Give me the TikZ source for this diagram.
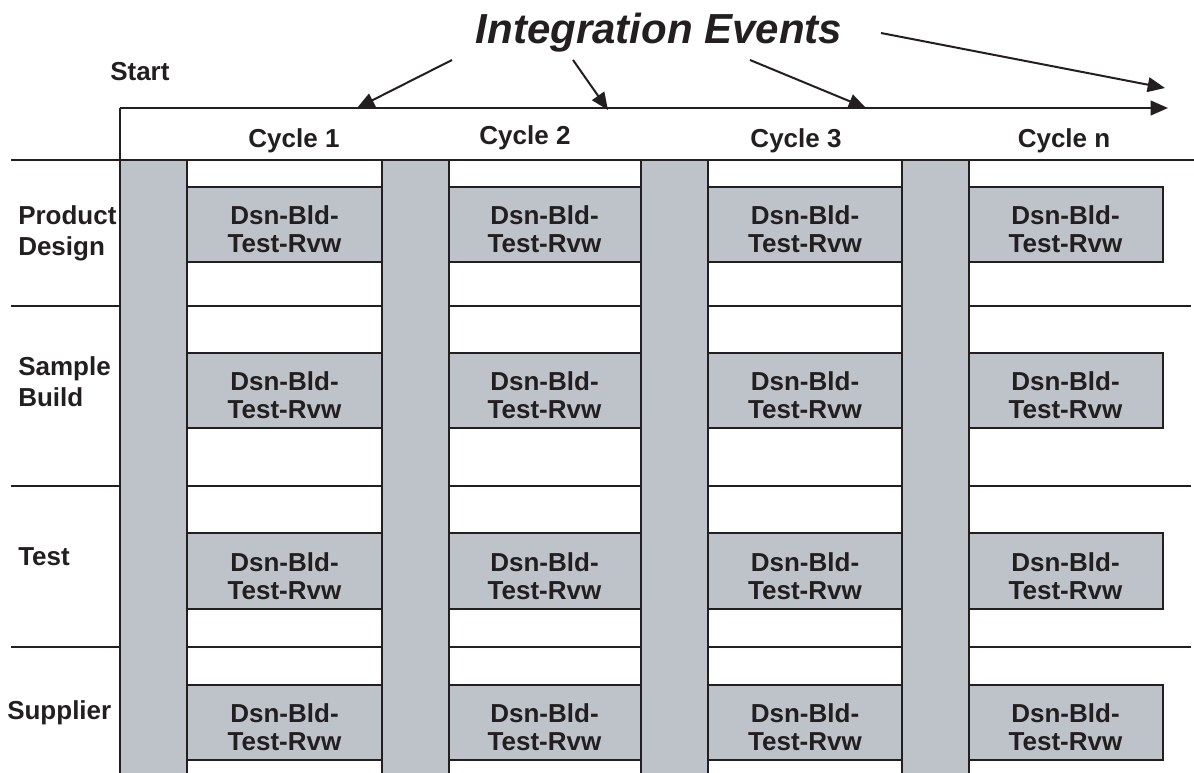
\documentclass[tikz,border=0pt]{standalone}
\usepackage{fontspec}
\setmainfont{Liberation Sans}
\usetikzlibrary{arrows.meta}
\definecolor{grigio}{RGB}{190,195,202}
\definecolor{nero}{RGB}{35,31,32}

\begin{document}
\begin{tikzpicture}[x=0.75pt,y=-0.75pt,
        linea/.style={line width=1.5pt,draw=nero},
        freccia/.style={linea,-{Triangle[length=13pt,width=11pt]}},
        blocco/.style={linea,fill=grigio},
        testo/.style={font=\fontsize{19.5}{21}\selectfont\bfseries,text=nero,align=center,anchor=base,inner sep=0pt},
        etichetta/.style={font=\fontsize{19.5}{23}\selectfont\bfseries,text=nero,align=left,anchor=base west,inner sep=0pt}]
        %area del disegno
        \clip (0,0) rectangle (1194,772);

        %scrivo titolo e start
        \node[testo,font=\fontsize{31.5}{36}\selectfont\bfseries\itshape] (eventi) at (659,43) {Integration Events};
        \node[etichetta] (start) at (110,80) {Start};

        %disegno asse dei cicli
        \coordinate (t0) at (120,108);
        \coordinate (tn) at (1168,108);
        \draw[freccia] (t0)--(tn);
        \draw[linea] (t0)--(120,160);

        %frecce degli eventi di integrazione
        \coordinate (s1) at (452,60);
        \coordinate (s2) at (573,60);
        \coordinate (s3) at (750,60);
        \coordinate (s4) at (881,33);
        \coordinate (e1) at (357,108);
        \coordinate (e2) at (608,110);
        \coordinate (e3) at (866,108);
        \coordinate (e4) at (1165,88);
        \draw[freccia] (s1)--(e1);
        \draw[freccia] (s2)--(e2);
        \draw[freccia] (s3)--(e3);
        \draw[freccia] (s4)--(e4);

        %label dei cicli
        \node[testo] (ciclo1) at (294,147) {Cycle 1};
        \node[testo] (ciclo2) at (525,144) {Cycle 2};
        \node[testo] (ciclo3) at (796,147) {Cycle 3};
        \node[testo] (ciclon) at (1064,147) {Cycle n};

        %linee orizzontali tra le righe
        \draw[linea] (11,160)--(1194,160);
        \draw[linea] (11,306)--(1191,306);
        \draw[linea] (11,486)--(1191,486);
        \draw[linea] (11,647)--(1191,647);

        %blocchi Dsn-Bld-Test-Rvw
        \foreach \r/\ya/\yb in {1/187/262,2/353/428,3/533/609,4/685/760}
          \foreach \c/\xa/\xb in {1/187/382,2/448/641,3/708/902,4/968/1163}
            \draw[blocco] (\xa,\ya) rectangle (\xb,\yb) node[pos=.5,testo,yshift=-21pt] (b\r\c) {Dsn-Bld-\\Test-Rvw};

        %barre grigie degli eventi
        \foreach \x in {120,382,641,902}
          \draw[blocco] (\x,160) rectangle (\x+66.5,790);

        %nomi delle righe
        \node[etichetta] (prodotto) at (18,255) {Product\\Design};
        \node[etichetta] (campione) at (18,406) {Sample\\Build};
        \node[etichetta] (test) at (18,565) {Test};
        \node[etichetta] (fornitore) at (7,719) {Supplier};
    \end{tikzpicture}
\end{document}
